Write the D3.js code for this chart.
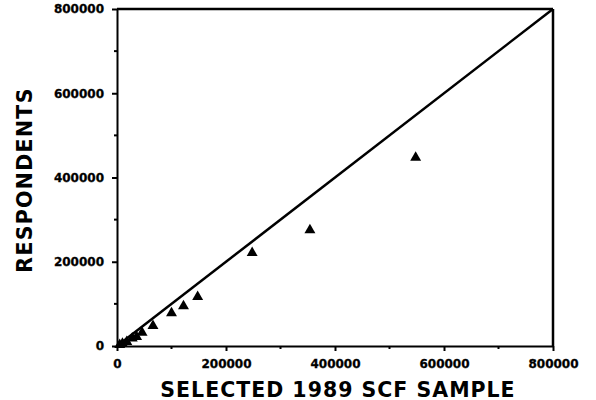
<!DOCTYPE html>
<html><head><meta charset="utf-8">
<script src="https://cdn.jsdelivr.net/npm/d3@7"></script>
<style>body{margin:0;background:#fff}svg{display:block}</style>
</head><body>
<svg id="chart" width="596" height="400"></svg>
<script>
const sampleValues = [5000, 10000, 18000, 28000, 36000, 46000, 66000, 100000, 122000, 148000, 248000, 354000, 548000];
const respondentValues = [3000, 6000, 10000, 18000, 22000, 32000, 48000, 78000, 95000, 117000, 221000, 275000, 447000];
const tickValues = [0, 200000, 400000, 600000, 800000];
const minorTickValues = [100000, 300000, 500000, 700000];
const xTitle = "SELECTED 1989 SCF SAMPLE";
const yTitle = "RESPONDENTS";

(function () {
const svg = d3.select("#chart");
const pLeft = 117, pRight = 553, pTop = 9, pBottom = 346;
const x = d3.scaleLinear().domain([0, 800000]).range([pLeft, pRight]);
const y = d3.scaleLinear().domain([0, 800000]).range([pBottom, pTop]);
const font = "'DejaVu Sans', sans-serif";

const xAxis = d3.axisBottom(x).tickValues(tickValues).tickFormat(d3.format("d")).tickSize(5).tickSizeOuter(0);
const yAxis = d3.axisLeft(y).tickValues(tickValues).tickFormat(d3.format("d")).tickSize(5).tickSizeOuter(0);
const gx = svg.append("g").attr("transform", `translate(0,${pBottom})`).call(xAxis);
const gy = svg.append("g").attr("transform", `translate(${pLeft},0)`).call(yAxis);
[gx, gy].forEach(g => {
  g.select(".domain").attr("stroke", "#000").attr("stroke-width", 2);
  g.selectAll(".tick line").attr("stroke", "#000").attr("stroke-width", 2);
  g.selectAll(".tick text").attr("font-family", font).attr("font-weight", "bold")
    .attr("font-size", 12).attr("fill", "#000").attr("stroke", "#000").attr("stroke-width", 0.3);
});
gx.selectAll(".tick text").attr("dy", "0.71em").attr("y", 13);
gy.selectAll(".tick text").attr("x", -13);

svg.append("g").selectAll("line").data(minorTickValues).join("line")
  .attr("x1", d => x(d)).attr("x2", d => x(d)).attr("y1", pBottom).attr("y2", pBottom + 3)
  .attr("stroke", "#000").attr("stroke-width", 2);
svg.append("g").selectAll("line").data(minorTickValues).join("line")
  .attr("y1", d => y(d)).attr("y2", d => y(d)).attr("x1", pLeft).attr("x2", pLeft - 3)
  .attr("stroke", "#000").attr("stroke-width", 2);

svg.append("line").attr("x1", pLeft).attr("x2", pRight).attr("y1", pTop).attr("y2", pTop)
  .attr("stroke", "#000").attr("stroke-width", 2.5);
svg.append("line").attr("x1", pRight).attr("x2", pRight).attr("y1", pTop).attr("y2", pBottom)
  .attr("stroke", "#000").attr("stroke-width", 2.5);

svg.append("line").attr("x1", x(0)).attr("y1", y(0)).attr("x2", x(800000)).attr("y2", y(800000))
  .attr("stroke", "#000").attr("stroke-width", 2.5);

const tri = d3.symbol().type(d3.symbolTriangle).size(52);
svg.append("g").selectAll("path").data(sampleValues.map((v, i) => [v, respondentValues[i]])).join("path")
  .attr("d", tri).attr("transform", d => `translate(${x(d[0])},${y(d[1])})`).attr("fill", "#000");

svg.append("text").attr("x", 338).attr("y", 396.5).attr("text-anchor", "middle")
  .attr("font-family", font).attr("font-weight", "bold").attr("font-size", 20.5)
  .attr("letter-spacing", 1).text(xTitle);
svg.append("text").attr("transform", "translate(32,180) rotate(-90)").attr("text-anchor", "middle")
  .attr("font-family", font).attr("font-weight", "bold").attr("font-size", 20.5)
  .attr("letter-spacing", 1.3).text(yTitle);
})();
</script>
</body></html>
